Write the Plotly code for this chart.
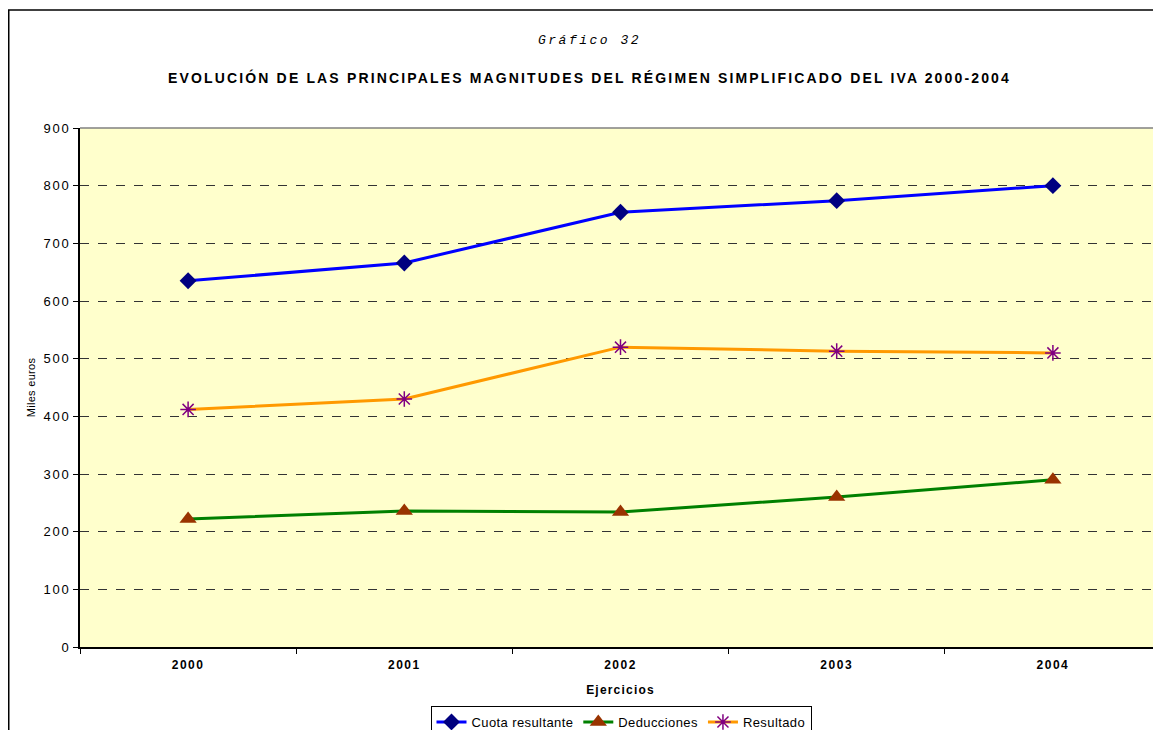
import plotly.graph_objects as go

years = ["2000", "2001", "2002", "2003", "2004"]
cuota_resultante = [635, 666, 754, 774, 800]
deducciones = [222, 236, 234, 260, 290]
resultado = [412, 430, 520, 513, 510]
y_ticks = [0, 100, 200, 300, 400, 500, 600, 700, 800, 900]


def spaced(text, px):
    return f'<span style="letter-spacing:{px}px">{text}</span>'


W, H = 1153, 722
L, T, R, B = 72, 120, 0, 83
PW, PH = W - L - R, H - T - B


def px_x(fx):
    return (fx - L) / PW


def px_y(fy):
    return (H - B - fy) / PH


fig = go.Figure()
fig.add_trace(go.Scatter(
    x=years, y=cuota_resultante, name=spaced("Cuota resultante", 0.4), mode="lines+markers",
    line=dict(color="#0000FF", width=3),
    marker=dict(symbol="diamond", size=13, color="#000080", line=dict(width=0)),
))
fig.add_trace(go.Scatter(
    x=years, y=deducciones, name=spaced("Deducciones", 0.4), mode="lines+markers",
    line=dict(color="#008000", width=3),
    marker=dict(symbol="triangle-up", size=15, color="#993300", line=dict(width=0)),
))
fig.add_trace(go.Scatter(
    x=years, y=resultado, name=spaced("Resultado", 0.4), mode="lines+markers",
    line=dict(color="#FF9900", width=3),
    marker=dict(symbol="asterisk-open", size=13, color="#800080", line=dict(width=1.5, color="#800080")),
))

fig.update_layout(
    width=W, height=H,
    margin=dict(l=L, r=R, t=T, b=B, autoexpand=False),
    paper_bgcolor="white", plot_bgcolor="#FFFFCC",
    font=dict(family="Liberation Sans, Arial, sans-serif", size=11, color="black"),
    showlegend=True,
    legend=dict(orientation="h", x=px_x(621 - 8), xanchor="center",
                yref="container", y=1 - (698 / H), yanchor="top",
                bordercolor="black", borderwidth=1, bgcolor="white",
                font=dict(size=13), tracegroupgap=0),
    xaxis=dict(
        type="category", range=[-0.5, 4.5], showgrid=False, automargin=False,
        showline=True, linecolor="black", linewidth=1.5,
        ticks="outside", tickson="boundaries", ticklen=5, tickcolor="black",
        tickvals=years, ticktext=[spaced(f"<b>{y}</b>", 1.5) for y in years],
        tickfont=dict(size=12), ticklabelstandoff=6,
        title=dict(text=spaced("<b>Ejercicios</b>", 1.2), font=dict(size=12), standoff=14),
    ),
    yaxis=dict(
        range=[0, 900], showgrid=True, gridcolor="#333333", automargin=False,
        griddash="dash", gridwidth=1,
        showline=True, linecolor="black", linewidth=1.5,
        ticks="outside", ticklen=5, tickcolor="black",
        tickvals=y_ticks, ticktext=[spaced(str(v), 1.8) for v in y_ticks],
        tickfont=dict(size=13), zeroline=False,
        title=dict(text=spaced("Miles euros", 0.3), font=dict(size=11), standoff=6),
    ),
    annotations=[
        dict(text=spaced("<i>Gráfico 32</i>", 2.5), xref="paper", yref="paper", x=px_x(589 - 8),
             y=px_y(40 - 8), xanchor="center", yanchor="middle", showarrow=False,
             font=dict(family="Liberation Mono, Courier New, monospace", size=13)),
        dict(text=spaced("<b>EVOLUCIÓN DE LAS PRINCIPALES MAGNITUDES DEL RÉGIMEN SIMPLIFICADO DEL IVA 2000-2004</b>", 2.15),
             xref="paper", yref="paper", x=px_x(589 - 8), y=px_y(77 - 8),
             xanchor="center", yanchor="middle", showarrow=False,
             font=dict(family="Liberation Sans, Arial, sans-serif", size=14)),
    ],
    shapes=[
        dict(type="line", xref="paper", yref="paper", x0=0, x1=1, y0=1, y1=1,
             line=dict(color="#808080", width=1.5)),
        dict(type="line", xref="paper", yref="paper", x0=px_x(0.75), x1=px_x(0.75),
             y0=px_y(2), y1=px_y(H + 10), line=dict(color="black", width=1.5)),
        dict(type="line", xref="paper", yref="paper", x0=px_x(0), x1=px_x(W + 10),
             y0=px_y(2), y1=px_y(2), line=dict(color="black", width=1.5)),
    ],
)

fig.write_html("out.html")
